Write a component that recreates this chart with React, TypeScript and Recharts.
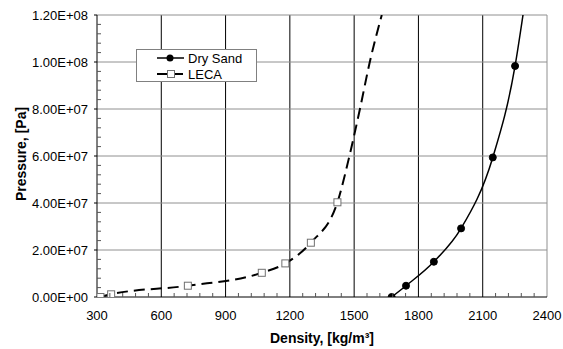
import React from 'react';
import {
  ComposedChart,
  Line,
  Scatter,
  XAxis,
  YAxis,
  CartesianGrid,
  Legend,
} from 'recharts';

// marker points (density kg/m3, pressure Pa)
const drySandPoints = [
  { d: 1675, p: 0 },
  { d: 1742, p: 4.8e6 },
  { d: 1872, p: 1.5e7 },
  { d: 1999, p: 2.92e7 },
  { d: 2147, p: 5.94e7 },
  { d: 2251, p: 9.83e7 },
];
// where the fitted curve leaves the top of the plot
const drySandCurveExtra = [{ d: 2288, p: 1.2e8 }];

const lecaPoints = [
  { d: 316, p: 0 },
  { d: 366, p: 1.15e6 },
  { d: 724, p: 4.8e6 },
  { d: 1069, p: 1.03e7 },
  { d: 1179, p: 1.43e7 },
  { d: 1298, p: 2.31e7 },
  { d: 1422, p: 4.03e7 },
];
const lecaCurveExtra = [
  { d: 1478, p: 6.0e7 },
  { d: 1527, p: 8.0e7 },
  { d: 1573, p: 1.0e8 },
  { d: 1629, p: 1.2e8 },
];

const xTicks = [300, 600, 900, 1200, 1500, 1800, 2100, 2400];
const yTicks = [0, 2e7, 4e7, 6e7, 8e7, 1e8, 1.2e8];
const xMinorTicks = [
  360, 420, 480, 540, 660, 720, 780, 840, 960, 1020, 1080, 1140, 1260, 1320, 1380, 1440,
  1560, 1620, 1680, 1740, 1860, 1920, 1980, 2040, 2160, 2220, 2280, 2340,
];
const yMinorTicks = [
  4e6, 8e6, 1.2e7, 1.6e7, 2.4e7, 2.8e7, 3.2e7, 3.6e7, 4.4e7, 4.8e7, 5.2e7, 5.6e7,
  6.4e7, 6.8e7, 7.2e7, 7.6e7, 8.4e7, 8.8e7, 9.2e7, 9.6e7, 1.04e8, 1.08e8, 1.12e8, 1.16e8,
];

const seriesNames = ['Dry Sand', 'LECA'];

const drySandCurve = [...drySandPoints, ...drySandCurveExtra];
const lecaCurve = [...lecaPoints, ...lecaCurveExtra];
const xAllTicks = [...xTicks, ...xMinorTicks].sort((a, b) => a - b);
const yAllTicks = [...yTicks, ...yMinorTicks].sort((a, b) => a - b);

const FONT = 'Arial, "Liberation Sans", sans-serif';

const fmtSci = (v: number) => {
  if (v === 0) return '0.00E+00';
  const exp = Math.floor(Math.log10(v));
  const mant = v / Math.pow(10, exp);
  return `${mant.toFixed(2)}E+${String(exp).padStart(2, '0')}`;
};

const XTick = (props: any) => {
  const { x, y, payload } = props;
  const v = payload.value;
  if (!xTicks.includes(v)) {
    return <line x1={x} x2={x} y1={y} y2={y - 4} stroke="#555" />;
  }
  return (
    <text x={x} y={y + 23} textAnchor="middle" fontFamily={FONT} fontSize={13} fill="#000">
      {v}
    </text>
  );
};

const YTick = (props: any) => {
  const { x, y, payload } = props;
  const v = payload.value;
  if (!yTicks.includes(v)) {
    return <line x1={x} x2={x + 4} y1={y} y2={y} stroke="#555" />;
  }
  return (
    <g>
      <line x1={x - 3} x2={x} y1={y} y2={y} stroke="#000" />
      <text x={x - 9} y={y + 4.5} textAnchor="end" fontFamily={FONT} fontSize={13} fill="#000">
        {fmtSci(v)}
      </text>
    </g>
  );
};

const Dot = (props: any) => {
  const { cx, cy } = props;
  return <circle cx={cx} cy={cy} r={3.5} fill="#000" stroke="#000" />;
};

const Square = (props: any) => {
  const { cx, cy } = props;
  return <rect x={cx - 3.5} y={cy - 3.5} width={7} height={7} fill="#fff" stroke="#707070" strokeWidth={1} />;
};

const LegendBox = () => (
  <div
    style={{
      width: 121,
      height: 33,
      boxSizing: 'border-box',
      border: '1px solid #808080',
      background: '#fff',
      fontFamily: FONT,
      fontSize: 13,
    }}
  >
    <svg width={119} height={31} style={{ display: 'block' }}>
      <line x1={20} x2={47} y1={8} y2={8} stroke="#000" strokeWidth={1.5} />
      <circle cx={33} cy={8} r={3.5} fill="#000" />
      <text x={51} y={12.5} fontFamily={FONT} fontSize={13} fill="#000">{seriesNames[0]}</text>
      <line x1={20} x2={30} y1={24} y2={24} stroke="#000" strokeWidth={2} />
      <line x1={38} x2={46} y1={24} y2={24} stroke="#000" strokeWidth={2} />
      <rect x={30.5} y={20.5} width={7} height={7} fill="#fff" stroke="#707070" />
      <text x={51} y={28.5} fontFamily={FONT} fontSize={13} fill="#000">{seriesNames[1]}</text>
    </svg>
  </div>
);

export default function App() {
  return (
    <div style={{ position: 'absolute', left: 0, top: 0, background: '#fff' }}>
      <ComposedChart
        width={563}
        height={349}
        margin={{ top: 15, right: 16, bottom: 0, left: 0 }}
        style={{ fontFamily: FONT }}
      >
        <CartesianGrid horizontal={false} stroke="#000" strokeWidth={1} verticalValues={xTicks.slice(1, -1)} />
        <CartesianGrid
          stroke="#909090"
          strokeWidth={1}
          horizontalValues={yTicks.slice(1)}
          verticalValues={xTicks.slice(-1)}
        />
        <XAxis
          type="number"
          dataKey="d"
          domain={[300, 2400]}
          ticks={xAllTicks}
          interval={0}
          allowDataOverflow
          height={52}
          tickSize={0}
          tickMargin={0}
          stroke="#000"
          tick={<XTick />}
          label={{
            content: () => (
              <text x={322} y={343} textAnchor="middle" fontFamily={FONT} fontSize={14} fontWeight="bold" fill="#000">
                Density, [kg/m³]
              </text>
            ),
          }}
        />
        <YAxis
          type="number"
          dataKey="p"
          domain={[0, 1.2e8]}
          ticks={yAllTicks}
          interval={0}
          allowDataOverflow
          width={97}
          tickSize={0}
          tickMargin={0}
          stroke="#000"
          tick={<YTick />}
          label={{
            content: () => (
              <text
                x={21}
                y={154}
                transform="rotate(-90 21 154)"
                textAnchor="middle"
                dominantBaseline="central"
                fontFamily={FONT}
                fontSize={14}
                fontWeight="bold"
                fill="#000"
              >
                Pressure, [Pa]
              </text>
            ),
          }}
        />
        <Line
          data={drySandCurve}
          dataKey="p"
          type="monotone"
          stroke="#000"
          strokeWidth={1.5}
          dot={false}
          activeDot={false}
          isAnimationActive={false}
          legendType="none"
        />
        <Line
          data={lecaCurve}
          dataKey="p"
          type="monotone"
          stroke="#000"
          strokeWidth={2}
          strokeDasharray="11 6"
          dot={false}
          activeDot={false}
          isAnimationActive={false}
          legendType="none"
        />
        <Scatter data={drySandPoints} dataKey="p" name={seriesNames[0]} shape={<Dot />} isAnimationActive={false} />
        <Scatter data={lecaPoints} dataKey="p" name={seriesNames[1]} shape={<Square />} isAnimationActive={false} />
        <Legend
          layout="vertical"
          align="center"
          verticalAlign="middle"
          content={() => <LegendBox />}
          wrapperStyle={{ left: 136, top: 49, width: 121, height: 33 }}
        />
      </ComposedChart>
    </div>
  );
}
